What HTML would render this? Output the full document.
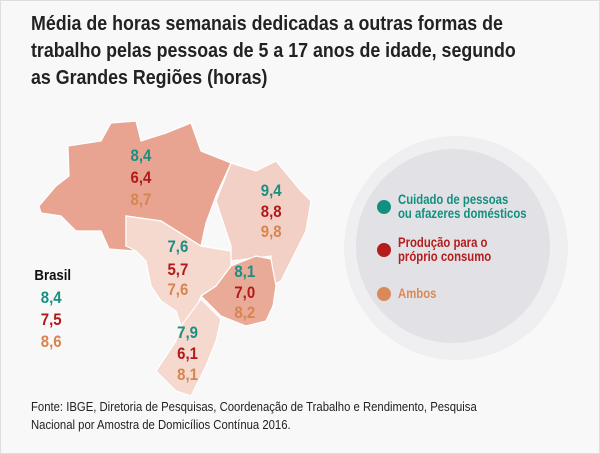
<!DOCTYPE html>
<html><head><meta charset="utf-8"><style>
body{margin:0;background:#fff}
.w{position:relative;width:598px;height:452px;border:1px solid #ddd;background:#f8f8f9;overflow:hidden;font-family:"Liberation Sans Narrow","Liberation Sans",sans-serif}
.t{position:absolute;left:30px;top:10px;font-size:20px;font-weight:bold;line-height:27px;color:#222;transform:scaleX(.89);transform-origin:0 0;width:640px}
.f{position:absolute;left:30px;top:397px;font-size:13px;line-height:18px;color:#222;transform:scaleX(.87);transform-origin:0 0;width:640px}
.l{position:absolute;left:397px;font-size:13.5px;font-weight:bold;line-height:14px;transform:scaleX(.84);transform-origin:0 0;white-space:nowrap}
</style></head><body><div class="w">
<div class="t">Média de horas semanais dedicadas a outras formas de<br>trabalho pelas pessoas de 5 a 17 anos de idade, segundo<br>as Grandes Regiões (horas)</div>
<svg width="600" height="454" style="position:absolute;left:0;top:0" font-family="Liberation Sans Narrow, Liberation Sans, sans-serif" font-weight="bold">
<circle cx="455" cy="247" r="112" fill="#efeff1"/>
<circle cx="452" cy="245" r="97" fill="#e2e2e6"/>
<g stroke="#fff" stroke-width="1.2">
<polygon fill="#e8a491" points="38,205 55,185 68,175 67,145 100,140 110,122 135,120 140,140 165,132 190,122 200,150 230,162 215,195 205,222 200,245 160,220 125,215 125,245 140,240 133,250 108,248 100,230 75,230 60,215 40,212"/>
<polygon fill="#f3d0c5" points="230,162 255,170 275,160 300,190 310,200 305,230 295,250 280,280 270,285 270,255 230,260 230,245 215,200"/>
<polygon fill="#f5d8ce" points="125,215 160,220 200,245 230,250 230,265 215,285 200,295 190,320 180,325 175,310 160,300 150,285 145,260 135,250 125,245"/>
<polygon fill="#eaaa98" points="230,265 255,255 270,258 275,285 272,305 265,320 245,325 220,315 200,295 215,285"/>
<polygon fill="#f5d8ce" points="180,325 200,298 220,318 215,340 205,365 190,395 175,390 155,370 165,355 175,340"/>
</g>
<g font-size="17" text-anchor="middle" transform="scale(0.88,1)">
<text x="159" y="160" fill="#1a8f80">8,4</text><text x="159" y="182" fill="#b01a1a">6,4</text><text x="159" y="204" fill="#d8844f">8,7</text>
<text x="307" y="195" fill="#1a8f80">9,4</text><text x="307" y="216" fill="#b01a1a">8,8</text><text x="307" y="236" fill="#d8844f">9,8</text>
<text x="201" y="251" fill="#1a8f80">7,6</text><text x="201" y="274" fill="#b01a1a">5,7</text><text x="201" y="294" fill="#d8844f">7,6</text>
<text x="277" y="276" fill="#1a8f80">8,1</text><text x="277" y="297" fill="#b01a1a">7,0</text><text x="277" y="317" fill="#d8844f">8,2</text>
<text x="212" y="337" fill="#1a8f80">7,9</text><text x="212" y="358" fill="#b01a1a">6,1</text><text x="212" y="379" fill="#d8844f">8,1</text>
<text x="57" y="302" fill="#1a8f80">8,4</text><text x="57" y="324" fill="#b01a1a">7,5</text><text x="57" y="346" fill="#d8844f">8,6</text>
<text x="38" y="279" font-size="15" text-anchor="start" fill="#111">Brasil</text>
</g>
<circle cx="383" cy="206" r="7" fill="#138f80"/><circle cx="383" cy="249" r="7" fill="#b51c1c"/><circle cx="383" cy="293" r="7" fill="#d9895a"/>
</svg>
<div class="l" style="top:192px;color:#138f80">Cuidado de pessoas<br>ou afazeres domésticos</div>
<div class="l" style="top:235px;color:#b51c1c">Produção para o<br>próprio consumo</div>
<div class="l" style="top:286px;color:#d9895a">Ambos</div>
<div class="f">Fonte: IBGE, Diretoria de Pesquisas, Coordenação de Trabalho e Rendimento, Pesquisa<br>Nacional por Amostra de Domicílios Contínua 2016.</div>
</div></body></html>
